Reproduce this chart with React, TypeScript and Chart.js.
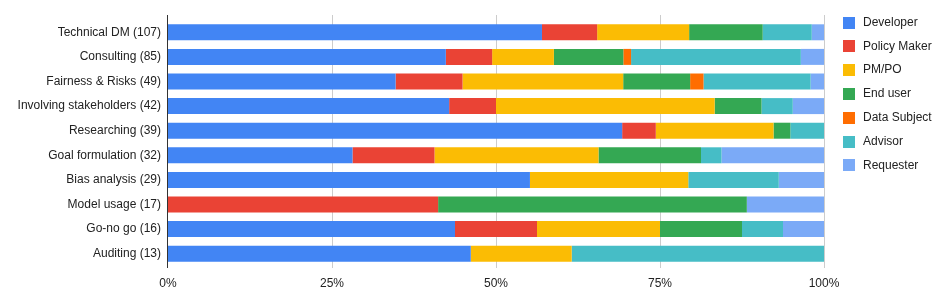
import React, { useEffect, useRef } from "react";
import { Chart, registerables } from "chart.js";

Chart.register(...registerables);

const categories = [
  "Technical DM (107)",
  "Consulting (85)",
  "Fairness & Risks (49)",
  "Involving stakeholders (42)",
  "Researching (39)",
  "Goal formulation (32)",
  "Bias analysis (29)",
  "Model usage (17)",
  "Go-no go (16)",
  "Auditing (13)",
];

const developer = [61, 36, 17, 18, 27, 9, 16, 0, 7, 6];
const policyMaker = [9, 6, 5, 3, 2, 4, 0, 7, 2, 0];
const pmPo = [15, 8, 12, 14, 7, 8, 7, 0, 3, 2];
const endUser = [12, 9, 5, 3, 1, 5, 0, 8, 2, 0];
const dataSubject = [0, 1, 1, 0, 0, 0, 0, 0, 0, 0];
const advisor = [8, 22, 8, 2, 2, 1, 4, 0, 1, 5];
const requester = [2, 3, 1, 2, 0, 5, 2, 2, 1, 0];

const seriesNames = ["Developer", "Policy Maker", "PM/PO", "End user", "Data Subject", "Advisor", "Requester"];
const seriesValues = [developer, policyMaker, pmPo, endUser, dataSubject, advisor, requester];
const seriesColors = ["#4285F4", "#EA4335", "#FBBC04", "#34A853", "#FF6D01", "#46BDC6", "#7BAAF7"];

const xTicks = [0, 25, 50, 75, 100];

const FONT = "'Liberation Sans', Arial, sans-serif";
const TEXT = "#222222";

export default function App() {
  const ref = useRef<HTMLCanvasElement | null>(null);

  useEffect(() => {
    if (!ref.current) return;
    const totals = categories.map((_, i) => seriesValues.reduce((s, arr) => s + arr[i], 0));
    const datasets = seriesNames.map((name, k) => ({
      label: name,
      data: seriesValues[k].map((v, i) => (v / totals[i]) * 100),
      backgroundColor: seriesColors[k],
      borderWidth: 0,
      categoryPercentage: 1,
      barPercentage: 0.65,
    }));

    const gridPlugin = {
      id: "gridPlugin",
      beforeDatasetsDraw(chart: any) {
        const { ctx, chartArea, scales } = chart;
        ctx.save();
        ctx.lineWidth = 1;
        xTicks.forEach((t) => {
          const px = Math.round(scales.x.getPixelForValue(t));
          ctx.strokeStyle = t === 0 ? "#333333" : "#cccccc";
          const x = t === 0 ? px - 0.5 : px + 0.5;
          ctx.beginPath();
          ctx.moveTo(x, chartArea.top - 5);
          ctx.lineTo(x, chartArea.bottom + 2);
          ctx.stroke();
        });
        ctx.restore();
      },
    };

    const legendPlugin = {
      id: "legendPlugin",
      afterDraw(chart: any) {
        const { ctx } = chart;
        ctx.save();
        ctx.font = `12px ${FONT}`;
        ctx.textBaseline = "middle";
        ctx.textAlign = "left";
        seriesNames.forEach((name, i) => {
          const cy = 22.5 + i * 23.8;
          ctx.fillStyle = seriesColors[i];
          ctx.fillRect(843, Math.round(cy - 6), 12, 12);
          ctx.fillStyle = TEXT;
          ctx.fillText(name, 863, cy);
        });
        ctx.restore();
      },
    };

    const chart = new Chart(ref.current, {
      type: "bar",
      data: { labels: categories, datasets },
      options: {
        indexAxis: "y",
        animation: false,
        responsive: false,
        maintainAspectRatio: false,
        layout: { padding: { left: 0, right: 124, top: 20, bottom: 0 } },
        plugins: {
          legend: { display: false },
          tooltip: { enabled: false },
        },
        scales: {
          x: {
            stacked: true,
            min: 0,
            max: 100,
            grid: { display: false, drawTicks: false },
            border: { display: false },
            ticks: {
              stepSize: 25,
              padding: 10,
              color: TEXT,
              font: { family: FONT, size: 12 },
              callback: (v: any) => `${v}%`,
              maxRotation: 0,
            },
            afterFit: (s: any) => {
              s.height = 40;
            },
          },
          y: {
            stacked: true,
            grid: { display: false, drawTicks: false },
            border: { display: false },
            ticks: {
              padding: 7,
              color: TEXT,
              font: { family: FONT, size: 12 },
              autoSkip: false,
            },
            afterFit: (s: any) => {
              s.width = 168;
            },
          },
        },
      },
      plugins: [gridPlugin, legendPlugin],
    });
    return () => chart.destroy();
  }, []);

  return (
    <div style={{ position: "absolute", left: 0, top: 0, width: 948, height: 306, background: "#fff" }}>
      <canvas ref={ref} width={948} height={306} style={{ width: 948, height: 306, display: "block" }} />
    </div>
  );
}
